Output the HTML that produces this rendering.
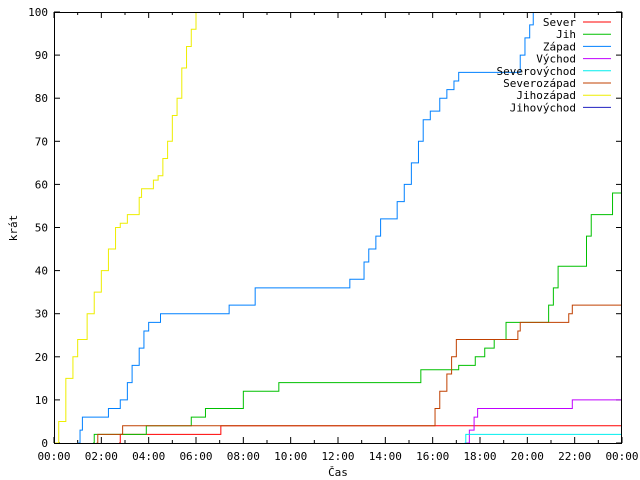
<!DOCTYPE html>
<html><head><meta charset="utf-8"><style>
body{margin:0;background:#fff}
svg{display:block;font-family:"DejaVu Sans Mono","Liberation Mono",monospace;font-size:11px}
</style></head><body>
<svg id="c" width="640" height="480"></svg>
<script>
const seriesNames=["Sever","Jih","Západ","Východ","Severovýchod","Severozápad","Jihozápad","Jihovýchod"];
const seriesColors=["#ff0000","#00c000","#0080ff","#c000ff","#00eeee","#c04000","#eeee00","#2020c0"];
const xTickLabels=["00:00","02:00","04:00","06:00","08:00","10:00","12:00","14:00","16:00","18:00","20:00","22:00","00:00"];
const yTickLabels=[0,10,20,30,40,50,60,70,80,90,100];
// step data: [hour, value]
const severData=[[2.75,0],[2.8,2],[7.0,2],[7.05,4],[24,4]];
const jihData=[[1.65,0],[1.7,2],[3.8,2],[3.9,4],[5.7,4],[5.8,6],[6.3,6],[6.4,8],[7.9,8],[8.0,12],[9.4,12],[9.5,14],[15.4,14],[15.5,17],[17.0,17],[17.1,18],[17.6,18],[17.8,20],[18.1,20],[18.2,22],[18.5,22],[18.6,24],[19.0,24],[19.1,28],[20.7,28],[20.9,32],[21.1,36],[21.3,41],[22.2,41],[22.5,48],[22.7,53],[23.3,53],[23.6,58],[24,64]];
const zapadData=[[1.0,0],[1.1,3],[1.2,6],[2.2,6],[2.3,8],[2.7,8],[2.8,10],[3.1,14],[3.3,18],[3.6,22],[3.8,26],[4.0,28],[4.4,28],[4.5,30],[7.3,30],[7.4,32],[8.4,32],[8.5,36],[12.4,36],[12.5,38],[12.9,38],[13.1,42],[13.3,45],[13.6,48],[13.8,52],[14.4,52],[14.5,56],[14.8,60],[15.1,65],[15.4,70],[15.6,75],[15.9,77],[16.3,80],[16.6,82],[16.9,84],[17.1,86],[19.5,86],[19.7,90],[19.9,94],[20.1,97],[20.25,100]];
const vychodData=[[17.4,0],[17.55,3],[17.75,6],[17.9,8],[21.8,8],[21.9,10],[24,10]];
const sevvychData=[[17.35,0],[17.4,2],[24,2]];
const sevzapData=[[1.8,0],[1.85,2],[2.85,2],[2.9,4],[15.9,4],[16.1,8],[16.3,12],[16.6,16],[16.8,20],[17.0,24],[19.4,24],[19.6,26],[19.7,28],[21.6,28],[21.75,30],[21.9,32],[24,32]];
const jihzapData=[[0,0],[0.2,5],[0.5,15],[0.8,20],[1.0,24],[1.2,24],[1.4,30],[1.7,35],[2.0,40],[2.3,45],[2.6,50],[2.8,51],[3.1,53],[3.5,53],[3.6,57],[3.7,59],[4.0,59],[4.2,61],[4.4,62],[4.6,66],[4.8,70],[5.0,76],[5.2,80],[5.4,87],[5.6,92],[5.8,96],[6.0,100]];
const jihvychData=[];
const allData=[severData,jihData,zapadData,vychodData,sevvychData,sevzapData,jihzapData,jihvychData];

const L=54,R=622,T=12,B=443;
const X=h=>L+(R-L)*h/24;
const Y=v=>B-(B-T)*v/100;
const svg=document.getElementById('c');
const NS="http://www.w3.org/2000/svg";
function mk(tag,attrs){const e=document.createElementNS(NS,tag);for(const k in attrs)e.setAttribute(k,attrs[k]);svg.appendChild(e);return e;}

// ticks
for(let h=0;h<=24;h++){
  const len=h%2===0?6:3;
  const t1=mk('line',{x1:X(h),x2:X(h),y1:B,y2:B-len,stroke:'#000'});
  
  
  const t2=mk('line',{x1:X(h),x2:X(h),y1:T,y2:T+len,stroke:'#000'});
  
  
}
xTickLabels.forEach((s,i)=>{
  const t=mk('text',{x:X(i*2),y:B+17,'text-anchor':'middle'});t.textContent=s;
  
  
});
yTickLabels.forEach(v=>{
  const a=mk('line',{x1:L,x2:L+6,y1:Y(v),y2:Y(v),stroke:'#000'});
  
  
  const b=mk('line',{x1:R,x2:R-6,y1:Y(v),y2:Y(v),stroke:'#000'});
  
  
  const t=mk('text',{x:L-6,y:Y(v)+4,'text-anchor':'end'});t.textContent=v;
  
  
});
const xt=mk('text',{x:338,y:476,'text-anchor':'middle'});xt.textContent='Čas';


const yt=mk('text',{x:17,y:228,'text-anchor':'middle',transform:'rotate(-90 17 228)'});yt.textContent='krát';



// series
const g=document.createElementNS(NS,'g');
g.setAttribute('clip-path','url(#clip)');
const defs=mk('defs',{});defs.innerHTML='<clipPath id="clip"><rect x="54" y="12" width="568" height="431"/></clipPath>';
svg.appendChild(g);
allData.forEach((d,i)=>{
  if(!d.length)return;
  let p='M'+X(d[0][0])+' '+Y(d[0][1]);
  for(let k=1;k<d.length;k++){p+=' L'+X(d[k][0])+' '+Y(d[k-1][1])+' L'+X(d[k][0])+' '+Y(d[k][1]);}
  const e=document.createElementNS(NS,'path');
  e.setAttribute('d',p);e.setAttribute('fill','none');e.setAttribute('stroke',seriesColors[i]);e.setAttribute('stroke-width','1');
  
  
  g.appendChild(e);
});
// legend
seriesNames.forEach((n,i)=>{
  const y=22+i*12.2;
  const t=mk('text',{x:576,y:y+4,'text-anchor':'end'});t.textContent=n;
  
  
  const l=mk('line',{x1:583,x2:611,y1:y,y2:y,stroke:seriesColors[i]});
  
  
});
const fr=mk('rect',{x:L+0.5,y:T+0.5,width:R-L-1,height:B-T,fill:'none',stroke:'#000'});


</script>
</body></html>
